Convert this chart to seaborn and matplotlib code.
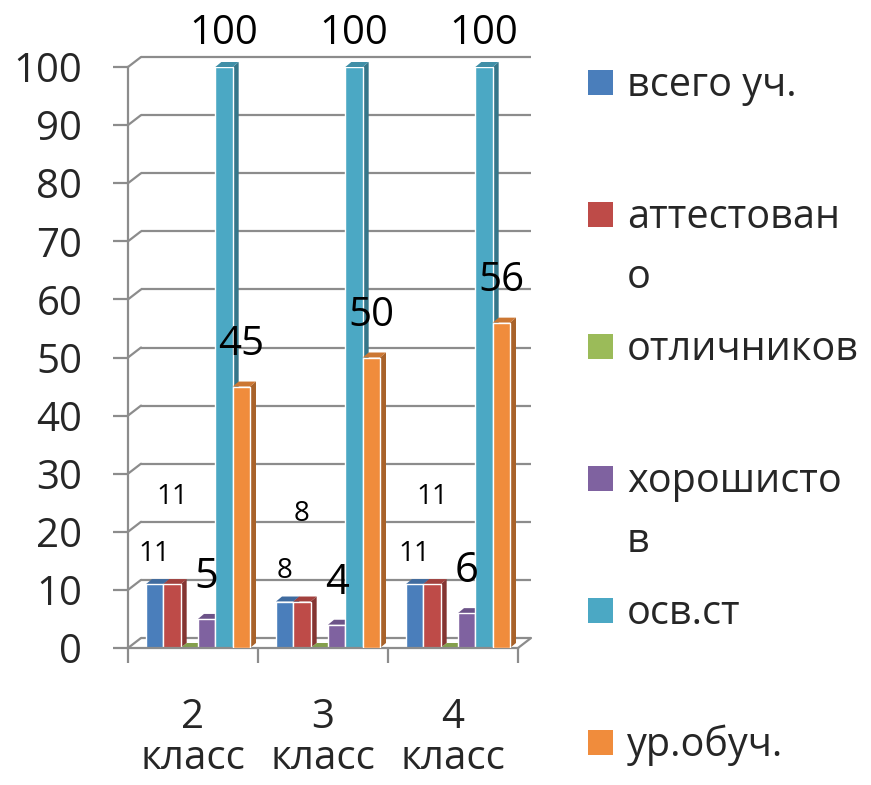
import pandas as pd
import numpy as np
import matplotlib.pyplot as plt
import seaborn as sns
from matplotlib.patches import Polygon, Rectangle
from matplotlib.colors import to_rgb

# --- data ---
classes = ["2\nкласс", "3\nкласс", "4\nкласс"]
series = ["всего уч.", "аттестовано", "отличников", "хорошистов", "осв.ст", "ур.обуч."]
legend_labels = ["всего уч.", "аттестован\nо", "отличников", "хорошисто\nв", "осв.ст", "ур.обуч."]
vsego = [11, 8, 11]
attest = [11, 8, 11]
otlich = [0, 0, 0]
horosh = [5, 4, 6]
osv_st = [100, 100, 100]
ur_obuch = [45, 50, 56]
values = [vsego, attest, otlich, horosh, osv_st, ur_obuch]
colors = ["#4A7EBB", "#BE4B48", "#9BBB59", "#7F62A0", "#4BA8C4", "#F08C3C"]
yticks = list(range(0, 101, 10))

df = pd.DataFrame({
    "класс": np.repeat(classes, len(series)),
    "серия": series * len(classes),
    "значение": [values[s][c] for c in range(len(classes)) for s in range(len(series))],
})

sns.set_theme(style="white")
plt.rcParams["font.family"] = ["Open Sans", "DejaVu Sans"]

W, H = 871, 785
fig = plt.figure(figsize=(W / 100, H / 100), dpi=100)
ax = fig.add_axes([128 / W, 1 - 648 / H, 390 / W, 581 / H])

sns.barplot(data=df, x="класс", y="значение", hue="серия", order=classes,
            hue_order=series, palette=colors, saturation=1, width=0.8,
            errorbar=None, legend=False, ax=ax)
ax.set_xlim(-0.5, 2.5)
ax.set_ylim(0, 100)

ppx = 390 / 3
ppy = 581 / 100
DX, DY = 13 / ppx, 10 / ppy   # back wall depth
BX, BY = 6 / ppx, 5 / ppy     # bar depth
SHIFT = 5 / ppx
GRAY = "#8C8C8C"


def shade(c, f):
    r, g, b = to_rgb(c)
    return (r * f, g * f, b * f)


# back wall gridlines + connectors + floor
ax.hlines([t + DY for t in yticks], -0.5 + DX, 2.5 + DX, color=GRAY, lw=1.6,
          zorder=0.5, clip_on=False)
for t in yticks:
    ax.plot([-0.5, -0.5 + DX], [t, t + DY], color=GRAY, lw=1.6, zorder=0.5,
            clip_on=False)
ax.plot([2.5, 2.5 + DX], [0, DY], color=GRAY, lw=1.6, zorder=0.5, clip_on=False)

# 3D-ish bar faces
for i, cont in enumerate(ax.containers):
    z = 2 + i * 0.1
    for bar in cont:
        bar.set_x(bar.get_x() + SHIFT)
        x, w, h = bar.get_x(), bar.get_width(), bar.get_height()
        bar.set_zorder(z + 0.05)
        side = Polygon([(x + w, 0), (x + w + BX, BY), (x + w + BX, h + BY), (x + w, h)],
                       closed=True, facecolor=shade(colors[i], 0.7), edgecolor="none",
                       zorder=z, clip_on=False)
        top = Polygon([(x, h), (x + BX, h + BY), (x + w + BX, h + BY), (x + w, h)],
                      closed=True, facecolor=shade(colors[i], 0.85), edgecolor="none",
                      zorder=z, clip_on=False)
        ax.add_patch(side)
        ax.add_patch(top)

# data labels: (font size, offset in points above bar top)
label_style = [(20, 22), (20, 63), None, (30, 30), (29, 24), (29, 30)]
for i, cont in enumerate(ax.containers):
    if label_style[i] is None:
        continue
    fs, off = label_style[i]
    for bar, v in zip(cont, values[i]):
        ax.annotate(f"{v}", (bar.get_x() + bar.get_width() / 2, bar.get_height()),
                    xytext=(0, off), textcoords="offset points", ha="center",
                    va="center", fontsize=fs, color="black", zorder=10,
                    annotation_clip=False)

# axes styling
for s in ["top", "right"]:
    ax.spines[s].set_visible(False)
for s in ["left", "bottom"]:
    ax.spines[s].set_color(GRAY)
    ax.spines[s].set_linewidth(1.6)
ax.set_yticks(yticks)
ax.tick_params(axis="y", direction="out", length=11, width=1.6, color=GRAY,
               pad=22, labelsize=29, left=True)
ax.set_xticks([-0.5, 0.5, 1.5, 2.5])
ax.set_xticklabels([])
ax.set_xticks([0, 1, 2], minor=True)
ax.set_xticklabels(classes, minor=True, linespacing=1.0)
ax.tick_params(axis="x", which="major", direction="out", length=11, width=1.6,
               color=GRAY, bottom=True)
ax.tick_params(axis="x", which="minor", length=0, pad=36, labelsize=29)
ax.set_xlabel("")
ax.set_ylabel("")
ax.grid(False)

# legend on the right, one text per line so the marker sits on the first line
for i, lab in enumerate(legend_labels):
    yc = 82 + i * 132
    fig.patches.append(Rectangle((588 / W, 1 - (yc + 12.5) / H), 25 / W, 25 / H,
                                 transform=fig.transFigure, facecolor=colors[i],
                                 edgecolor="none"))
    for k, line in enumerate(lab.split("\n")):
        fig.text(627 / W, 1 - (yc + 14 + k * 60) / H, line, fontsize=28.5,
                 va="baseline", ha="left")

fig.savefig("out.png", dpi=100)
